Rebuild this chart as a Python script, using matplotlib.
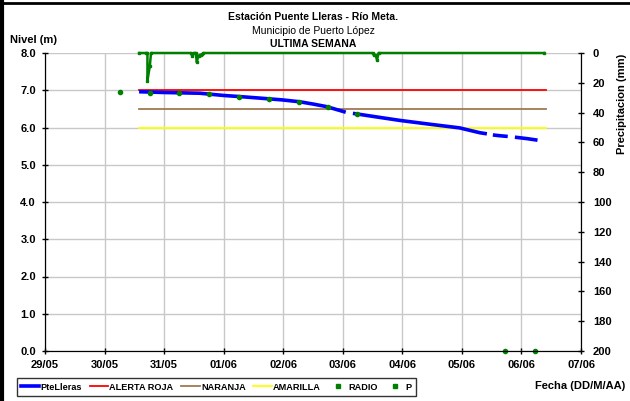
import numpy as np
import matplotlib
matplotlib.use('Agg')
import matplotlib.pyplot as plt
from matplotlib.lines import Line2D

plt.rcParams['font.family'] = ['Liberation Sans', 'DejaVu Sans']

# x axis: days counted from 29/05 00:00
day_labels = ['29/05', '30/05', '31/05', '01/06', '02/06', '03/06',
              '04/06', '05/06', '06/06', '07/06']

# river level (m), nan = gap in record
level_days = [1.58, 2.0, 2.6, 3.0, 3.27, 3.6, 3.99, 4.28, 4.5, 4.73, 5.05, np.nan,
              5.17, 5.5, 5.96, 6.5, 6.96, 7.3, 7.42, np.nan,
              7.52, 7.63, 7.77, np.nan, 7.89, 8.1, 8.27]
level_m = [6.96, 6.94, 6.92, 6.86, 6.83, 6.79, 6.74, 6.69, 6.63, 6.56, 6.41, np.nan,
           6.38, 6.30, 6.19, 6.08, 5.99, 5.86, 5.83, np.nan,
           5.80, 5.78, 5.76, np.nan, 5.74, 5.70, 5.66]

# alert thresholds
thr_start, thr_end = 1.58, 8.41
alerta_roja = 7.0
naranja = 6.5
amarilla = 6.0

# radio readings
radio_days = [1.26, 1.76, 2.25, 2.75, 3.26, 3.76, 4.26, 4.75, 5.24, 7.73, 8.22]
radio_m = [6.95, 6.93, 6.92, 6.91, 6.82, 6.77, 6.68, 6.55, 6.36, 0.0, 0.0]

# precipitation (mm)
p_days = [1.58, 1.70, 1.72, 1.72, 1.76, 1.78, 2.45, 2.47, 2.50, 2.53, 2.55,
          2.57, 2.58, 2.60, 2.62, 2.64, 2.66, 5.50, 5.52, 5.55, 5.575, 5.60, 8.38]
p_mm = [0, 0, 0, 18.6, 8.8, 0, 0, 1.8, 0, 0, 6.3,
        2.0, 2.0, 1.3, 1.3, 1.0, 0, 0, 1.3, 1.3, 4.7, 0, 0]

fig = plt.figure(figsize=(6.3, 4.01), dpi=100)
ax = fig.add_axes([45 / 630, 1 - 351 / 401, 536 / 630, 298 / 401])
ax2 = ax.twinx()

ax.plot(level_days, level_m, color='#0000ff', lw=2.6, solid_capstyle='butt', zorder=3)
ax.plot([thr_start, thr_end], [alerta_roja] * 2, color='#ff0000', lw=1.3, zorder=2)
ax.plot([thr_start, thr_end], [naranja] * 2, color='#a07850', lw=1.3, zorder=2)
ax.plot([thr_start, thr_end], [amarilla] * 2, color='#ffff00', lw=1.3, zorder=2)
ax.plot(radio_days, radio_m, 'o', color='#008000', ms=3, zorder=4, clip_on=False)

ax2.plot(p_days, p_mm, color='#008000', lw=1.8, marker='s', ms=1.5, clip_on=False)
ax2.set_ylim(200, 0)
ax2.set_yticks(np.arange(0, 201, 20))

ax.set_xlim(0, 9)
ax.set_ylim(0, 8)
ax.set_xticks(range(10))
ax.set_xticklabels(day_labels)
ax.set_yticks(np.arange(0, 8.1, 1))
ax.set_yticklabels(['%.1f' % v for v in np.arange(0, 8.1, 1)])
ax.grid(True, color='#c8c8c8', lw=1)
ax.set_axisbelow(True)

for a in (ax, ax2):
    a.spines['top'].set_visible(False)
    for s in ('left', 'right', 'bottom'):
        a.spines[s].set_color('black')
    a.tick_params(direction='inout', length=5, width=1, labelsize=8)
    for lab in a.get_xticklabels() + a.get_yticklabels():
        lab.set_fontweight('bold')
ax.tick_params(axis='y', pad=4)
ax.tick_params(axis='x', pad=4)
ax2.tick_params(axis='y', pad=6)

ax.text(0.5, 1.11, 'Estación Puente Lleras - Río Meta.', transform=ax.transAxes,
        ha='center', fontsize=7.5, fontweight='bold')
ax.text(0.5, 1.065, 'Municipio de Puerto López', transform=ax.transAxes,
        ha='center', fontsize=7.5)
ax.text(0.5, 1.02, 'ULTIMA SEMANA', transform=ax.transAxes,
        ha='center', fontsize=7.5, fontweight='bold')
fig.text(10 / 630, 1 - 43 / 401, 'Nivel (m)', fontsize=8, fontweight='bold')
fig.text(622 / 630, 1 - 104 / 401, 'Precipitacion (mm)', rotation=90,
         ha='center', va='center', fontsize=8, fontweight='bold')
fig.text(625 / 630, 1 - 386 / 401, 'Fecha (DD/M/AA)', ha='right', va='center',
         fontsize=8, fontweight='bold')

handles = [Line2D([], [], color='#0000ff', lw=2.6),
           Line2D([], [], color='#ff0000', lw=1.3),
           Line2D([], [], color='#a07850', lw=1.3),
           Line2D([], [], color='#ffff00', lw=1.3),
           Line2D([], [], ls='', marker='s', color='#008000', ms=2.5),
           Line2D([], [], ls='', marker='s', color='#008000', ms=2.5)]
names = ['PteLleras', 'ALERTA ROJA', 'NARANJA', 'AMARILLA', 'RADIO', 'P']
leg = fig.legend(handles, names, ncol=6, loc='center left',
                 bbox_to_anchor=(12 / 630, 1 - 387 / 401),
                 prop={'size': 6.6, 'weight': 'bold'}, frameon=True, fancybox=False,
                 edgecolor='black', handlelength=2.0, handletextpad=0.15,
                 columnspacing=0.85, borderpad=0.45)
leg.get_frame().set_linewidth(1)

# outer frame pieces visible in the crop
fig.add_artist(Line2D([0, 1], [1 - 2.5 / 401] * 2, color='black', lw=2))
fig.add_artist(Line2D([2 / 630] * 2, [0, 1], color='black', lw=3))

fig.savefig('out.png', dpi=100)
